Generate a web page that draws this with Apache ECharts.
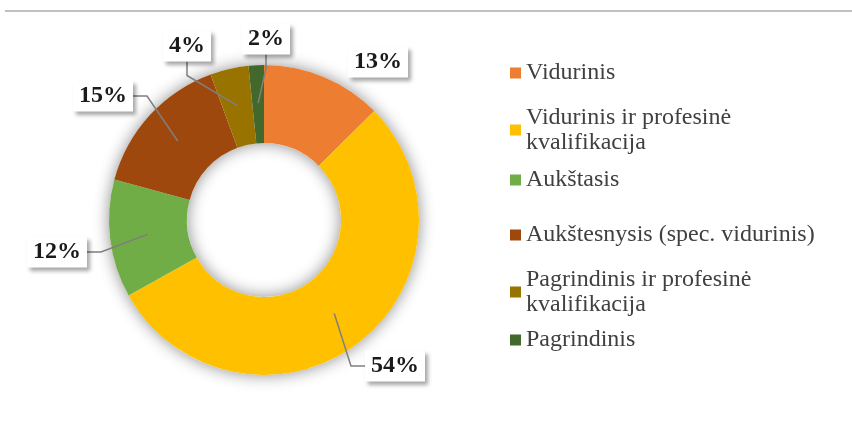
<!DOCTYPE html>
<html>
<head>
<meta charset="utf-8">
<script src="https://cdn.jsdelivr.net/npm/echarts@6/dist/echarts.min.js"></script>
<style>
  html, body { margin: 0; padding: 0; background: #fff; }
  #chart { width: 852px; height: 423px; }
</style>
</head>
<body>
<div id="chart"></div>
<script>
var categories = ['Vidurinis', 'Vidurinis ir profesinė kvalifikacija', 'Aukštasis',
    'Aukštesnysis (spec. vidurinis)', 'Pagrindinis ir profesinė kvalifikacija', 'Pagrindinis'];
var legendText = ['Vidurinis', 'Vidurinis ir profesinė\nkvalifikacija', 'Aukštasis',
    'Aukštesnysis (spec. vidurinis)', 'Pagrindinis ir profesinė\nkvalifikacija', 'Pagrindinis'];
var shares = [12.6, 54.3, 12.3, 15.2, 4.0, 1.6];
var colors = ['#ED7D31', '#FFC000', '#70AD47', '#9E480E', '#997300', '#43682B'];

// label box centres and legend marker centres (layout only)
var labelPos = [[378, 62], [395, 366], [57, 252], [103, 96], [187, 46], [266, 39]];
var legendY = [73, 130, 180, 235, 292, 340];

var serif = "'Liberation Serif', 'Times New Roman', serif";

var myChart = echarts.init(document.getElementById('chart'));

var legends = categories.map(function (name, i) {
    var twoLines = legendText[i].indexOf('\n') >= 0;
    return {
        orient: 'vertical',
        left: 505,
        top: legendY[i] - (twoLines ? 42.5 : 17.5),
        icon: 'rect',
        itemWidth: 11,
        itemHeight: 11,
        data: [name],
        formatter: function () { return legendText[i]; },
        textStyle: {
            fontFamily: serif,
            fontSize: 24,
            lineHeight: 25,
            color: '#404040',
            padding: twoLines ? [25, 0, 0, 0] : 0
        }
    };
});

var seriesData = categories.map(function (name, i) {
    return { name: name, value: shares[i] };
});

var option = {
    animation: false,
    color: colors,
    legend: legends,
    graphic: [{
        type: 'line',
        shape: { x1: 5, y1: 11, x2: 852, y2: 11 },
        style: { stroke: '#c0c0c0', lineWidth: 2 },
        silent: true
    }, {
        // soft shadow behind the ring
        type: 'ring',
        shape: { cx: 264, cy: 220, r: 155, r0: 77 },
        style: {
            fill: '#fff',
            shadowBlur: 16,
            shadowColor: 'rgba(0,0,0,0.45)'
        },
        z: -1,
        silent: true
    }],
    series: [{
        // the visible ring
        type: 'pie',
        center: [264, 220],
        radius: [77, 155],
        startAngle: 90,
        clockwise: true,
        z: 2,
        emphasis: { scale: false },
        label: { show: false },
        labelLine: { show: false },
        data: seriesData
    }, {
        // transparent copy carrying the labels, leader lines end mid-ring
        type: 'pie',
        silent: true,
        center: [264, 220],
        radius: [77, 117],
        startAngle: 90,
        clockwise: true,
        z: 3,
        avoidLabelOverlap: false,
        itemStyle: { color: 'rgba(0,0,0,0)' },
        label: {
            position: 'outside',
            formatter: function (p) { return Math.round(p.value) + '%'; },
            fontFamily: serif,
            fontSize: 24,
            fontWeight: 'bold',
            color: '#1a1a1a',
            backgroundColor: '#fff',
            padding: [4, 6, 3, 6],
            shadowBlur: 4,
            shadowOffsetX: 3,
            shadowOffsetY: 3,
            shadowColor: 'rgba(0,0,0,0.35)'
        },
        labelLine: {
            show: true,
            length: 10,
            length2: 14,
            lineStyle: { color: '#7f7f7f', width: 1.5 }
        },
        labelLayout: function (params) {
            var p = labelPos[params.dataIndex];
            return { x: p[0], y: p[1], align: 'center', verticalAlign: 'middle', hideOverlap: false };
        },
        data: seriesData.map(function (d, i) {
            var o = { name: d.name, value: d.value };
            if (i === 0) o.labelLine = { show: false };
            return o;
        })
    }]
};

myChart.setOption(option);
</script>
</body>
</html>
